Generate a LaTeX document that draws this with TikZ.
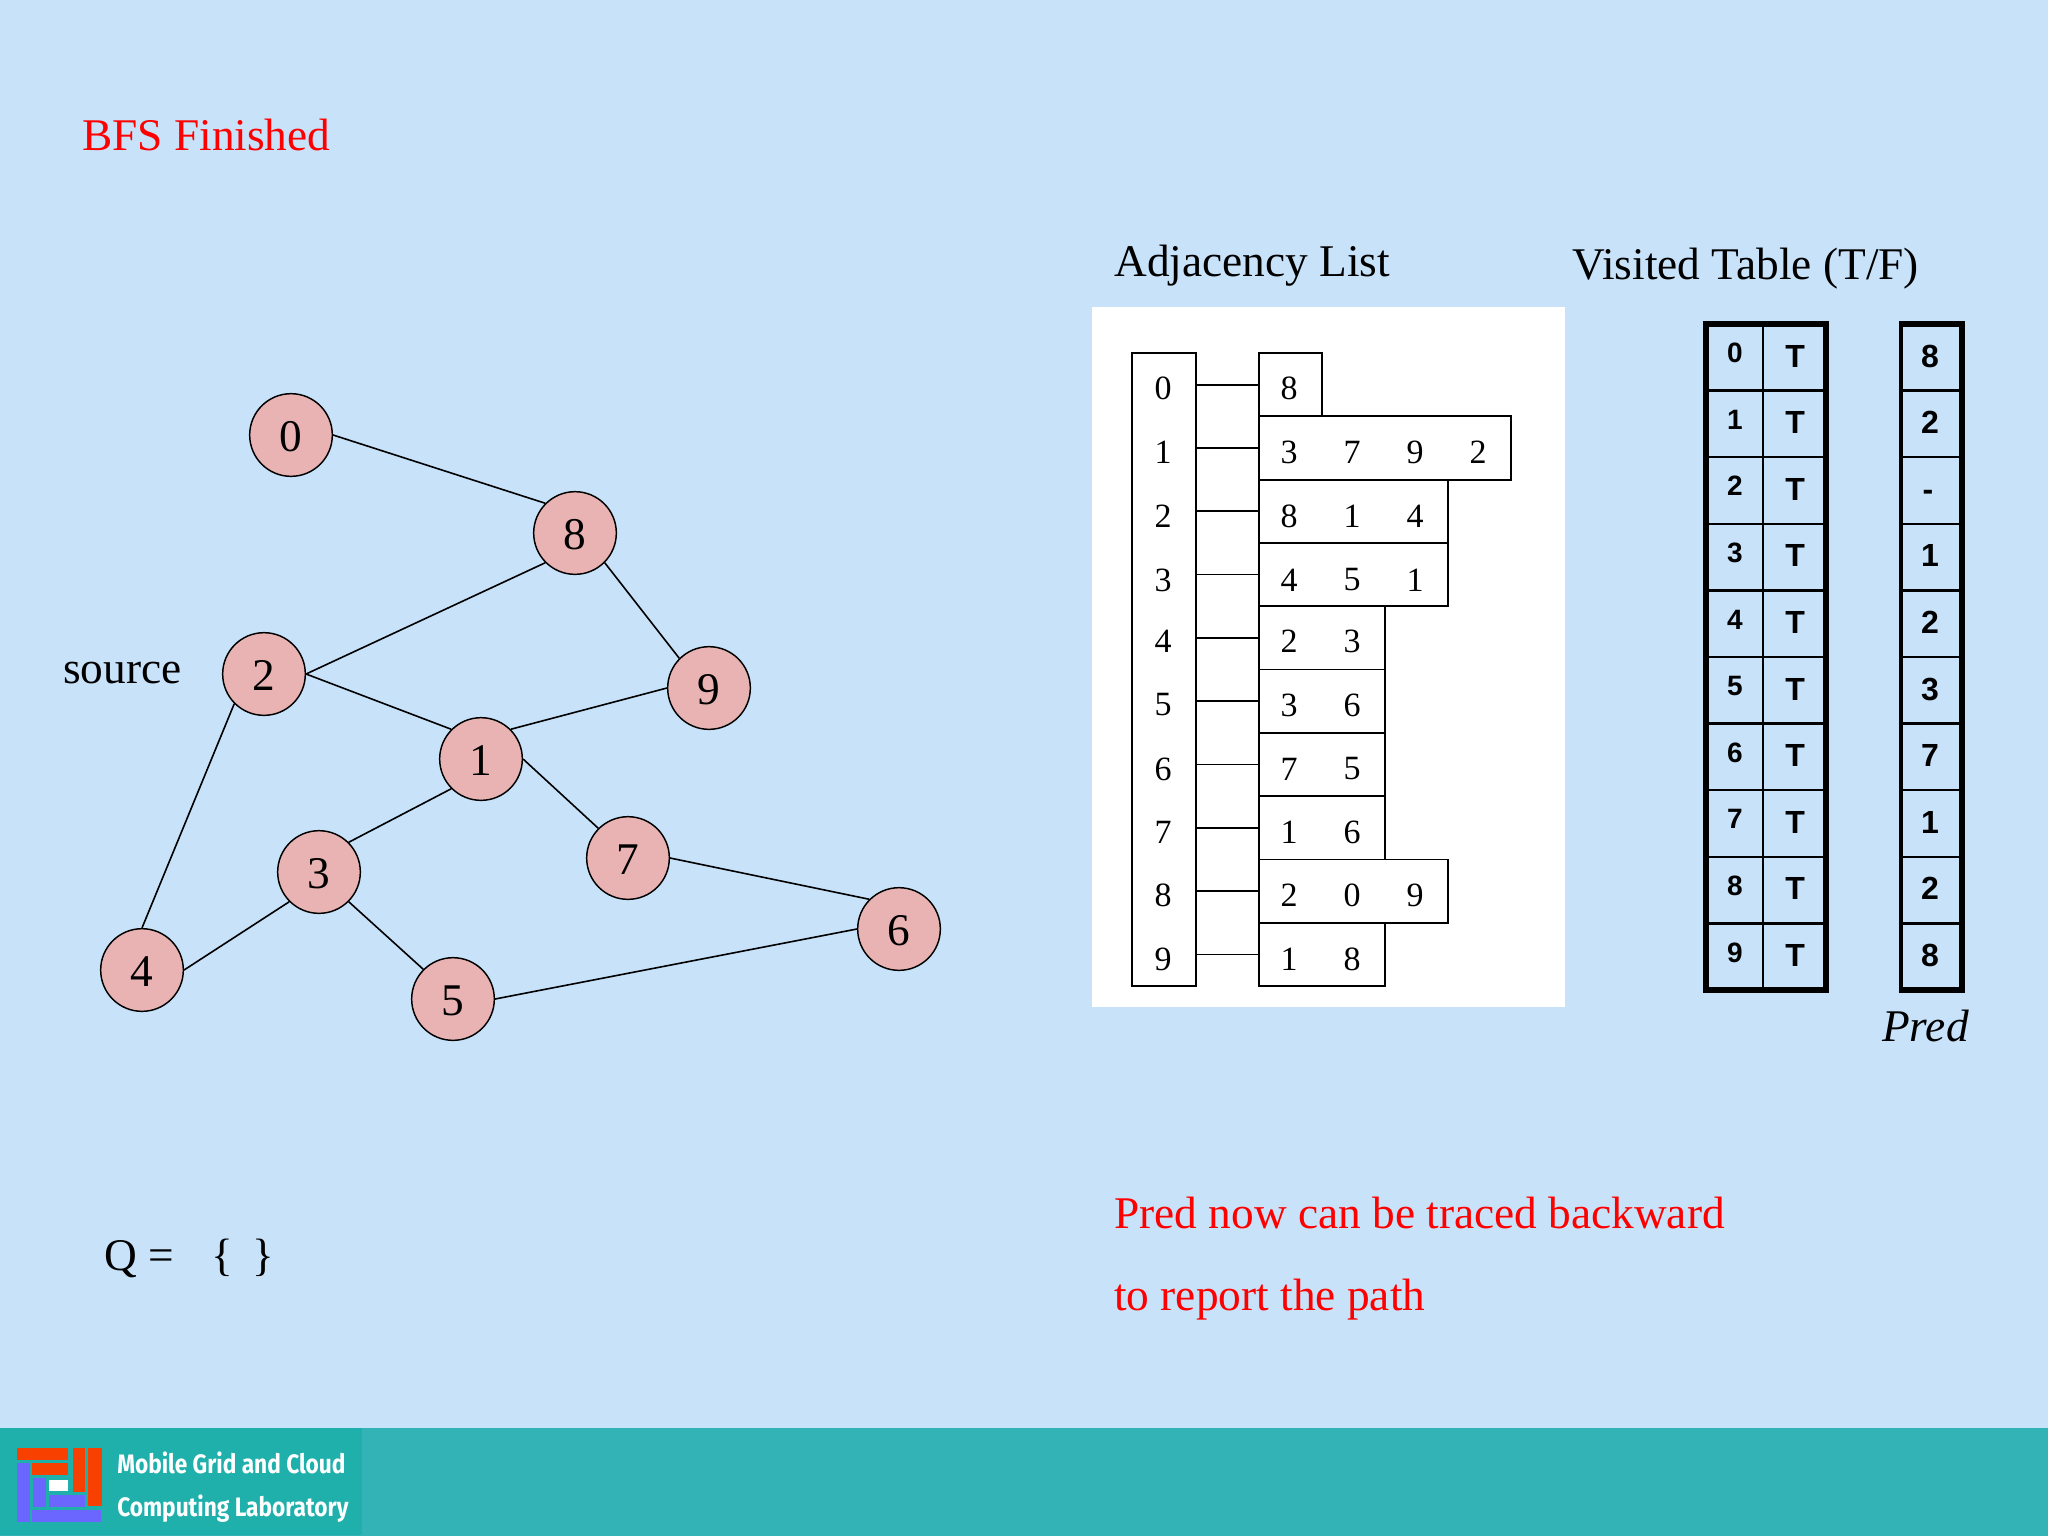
\documentclass[tikz,border=0pt]{standalone}
\usepackage{fontspec}
\setmainfont{Liberation Serif}
\newfontfamily\arialf{Liberation Sans}
\newfontfamily\logof{Fira Sans}
\definecolor{bgblue}{HTML}{C7E2F9}
\definecolor{nodepink}{HTML}{EAB3B3}
\definecolor{band}{HTML}{33B3B6}
\definecolor{bandd}{HTML}{1FB0AC}
\definecolor{logored}{HTML}{F84000}
\definecolor{logoblue}{HTML}{6A66FF}
\tikzset{
 x=0.75pt,y=-0.75pt,
 gnode/.style={circle,draw=black,fill=nodepink,line width=1.1pt,minimum size=62pt,inner sep=0pt,text height=25.4pt,text depth=0pt,font=\fontsize{34}{34}\selectfont},
 gedge/.style={line width=1.2pt},
 lab/.style={anchor=base west,inner sep=0pt,font=\fontsize{34}{34}\selectfont},
 redlab/.style={lab,text=red},
 adjbox/.style={draw=black,line width=1.3pt,anchor=north west,inner sep=0pt,outer sep=0pt,minimum height=47.5pt},
 adjdig/.style={inner sep=0pt,font=\fontsize{25.5}{25.5}\selectfont},
 adjline/.style={line width=1.3pt},
 idxtxt/.style={inner sep=0pt,font=\arialf\bfseries\fontsize{21}{21}\selectfont},
 tftxt/.style={inner sep=0pt,font=\arialf\bfseries\fontsize{24}{24}\selectfont},
 thin rule/.style={line width=1.7pt},
 logotxt/.style={anchor=base west,inner sep=0pt,text=white,font=\logof\bfseries\fontsize{20}{20}\selectfont},
}
\begin{document}
\begin{tikzpicture}
\useasboundingbox (0,0) rectangle (2048,1536);
\fill[bgblue] (0,0) rectangle (2048,1536);
% footer
\fill[band] (0,1428) rectangle (2048,1536);
\fill[bandd] (0,1428) rectangle (362,1535);
\fill[logored] (17,1448) rectangle (68,1460);
\fill[logored] (32,1463) rectangle (68,1475);
\fill[logored] (73,1448) rectangle (85,1492);
\fill[logored] (88,1448) rectangle (102,1506);
\fill[logoblue] (17,1463) rectangle (30,1522);
\fill[logoblue] (32,1510) rectangle (101,1522);
\fill[logoblue] (33,1478) rectangle (46,1507);
\fill[logoblue] (49,1495) rectangle (85,1507);
\fill[white] (49,1480) rectangle (68,1491);
\node[logotxt] (logoA) at (117,1473) {\scalebox{.85}[1]{Mobile Grid and Cloud}};
\node[logotxt] (logoB) at (117,1516) {\scalebox{.85}[1]{Computing Laboratory}};
% titles
\node[redlab] (title) at (82,150) {BFS Finished};
\node[lab] (src) at (63,683) {source};
\node[lab] (queue) at (104,1270) {Q =};
\node[lab] (lb) at (211,1270) {\{};
\node[lab] (rb) at (252,1270) {\}};
\node[lab] (adjt) at (1114,276) {Adjacency List};
\node[lab] (vist) at (1572,279) {Visited Table (T/F)};
\node[lab,font=\itshape\fontsize{34}{34}\selectfont] (predt) at (1882,1041) {Pred};
\node[redlab] (msgA) at (1114,1228) {Pred now can be traced backward};
\node[redlab] (msgB) at (1114,1310) {to report the path};
% graph
\foreach \n/\xx/\yy in {0/291/435,8/575/533,2/264/674,9/709/688,1/481/759,3/319/872,7/628/858,4/142/970,5/453/999,6/899/929}
  \node[gnode] (g\n) at (\xx,\yy) {\n};
\foreach \ea/\eb in {0.east/8.north west,8.south west/2.east,8.south east/9.north west,2.east/1.north west,2.south west/4.north,1.north east/9.west,1.south west/3.north east,1.east/7.north west,3.south west/4.east,3.south east/5.north west,7.east/6.north west,5.east/6.west}
  \draw[gedge] (g\ea) -- (g\eb);
% adjacency
\fill[white] (1092,307) rectangle (1565,1007);
\node[adjbox,minimum width=48pt,minimum height=475pt] (idx) at (1132,353) {};
\foreach \i/\cw/\yy/\ty in {0/1/353/388,1/4/416.3/452,2/3/479.6/516,3/3/542.9/580,4/2/606.2/641,5/2/669.5/705,6/2/732.8/769,7/2/796.1/832,8/3/859.4/895,9/2/922.7/959}{
  \pgfmathsetmacro\boxw{\cw*47.2}
  \node[adjbox,minimum width=\boxw pt] (l\i) at (1259,\yy) {};
  \draw[adjline] (idx.east |- l\i.west) -- (l\i.west);
  \node[adjdig] (n\i) at (1163,\ty) {\i};
}
\foreach \i/\ty/\vals in {0/388/{8},1/452/{3,7,9,2},2/516/{8,1,4},3/580/{4,5,1},4/641/{2,3},5/705/{3,6},6/769/{7,5},7/832/{1,6},8/895/{2,0,9},9/959/{1,8}}{
  \foreach \vv [count=\k from 0] in \vals {
    \pgfmathsetmacro\xx{1289+63*\k}
    \node[adjdig] (c\i-\k) at (\xx,\ty) {\vv};
  }
}
% visited
\draw[thin rule] (1763,324) -- (1763,990);
\foreach \k in {1,...,9}{
  \pgfmathsetmacro\yy{324+66.6*\k}
  \draw[thin rule] (1706,\yy) -- (1826,\yy);
  \draw[thin rule] (1901,\yy) -- (1962,\yy);
}
\draw[line width=4.5pt] (1706,324) rectangle (1826,990);
\draw[line width=2.6pt] (1901,990) -- (1901,324);
\draw[line width=4.5pt] (1899,324) -- (1962,324) -- (1962,990) -- (1899,990);
\foreach \i/\pp/\dx/\dy in {0/8/0/0,1/2/0/0,2/-/-2/6,3/1/0/0,4/2/0/0,5/3/0/0,6/7/0/0,7/1/0/0,8/2/0/0,9/8/0/0}{
  \pgfmathsetmacro\yy{353+66.6*\i}
  \pgfmathsetmacro\yb{356+66.6*\i}
  \pgfmathsetmacro\yc{\yb+\dy}
  \pgfmathsetmacro\xc{1930+\dx}
  \node[idxtxt] (v\i) at (1735,\yy) {\i};
  \node[tftxt] (t\i) at (1795,\yb) {T};
  \node[tftxt] (p\i) at (\xc,\yc) {\pp};
}
\end{tikzpicture}
\end{document}
